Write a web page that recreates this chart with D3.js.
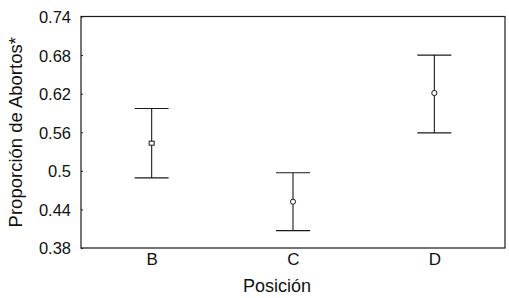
<!DOCTYPE html>
<html><head><meta charset="utf-8">
<script src="https://cdn.jsdelivr.net/npm/d3@7"></script>
<style>body{margin:0;background:#fff}svg{display:block}text{font-family:"Liberation Sans",Arial,sans-serif;fill:#111}</style>
</head><body><svg id="c" width="509" height="298"></svg>
<script>
const categories = ["B", "C", "D"];
const means = [0.543, 0.452, 0.621];
const upper = [0.597, 0.497, 0.680];
const lower = [0.489, 0.407, 0.559];
const markers = ["square", "circle", "circle"];
const yTicks = [0.38, 0.44, 0.5, 0.56, 0.62, 0.68, 0.74];
const yTickLabels = ["0.38", "0.44", "0.5", "0.56", "0.62", "0.68", "0.74"];

const svg = d3.select("#c");
const m = {l: 81, r: 4, t: 16.5, b: 50};
const W = 509, H = 298;
const x = d3.scalePoint().domain(categories).range([m.l, W - m.r]).padding(0.5);
const y = d3.scaleLinear().domain([0.38, 0.74]).range([H - m.b, m.t]);

const ink = "#1a1a1a";
svg.append("rect").attr("x", m.l).attr("y", m.t).attr("width", W - m.r - m.l).attr("height", H - m.b - m.t)
  .attr("fill", "none").attr("stroke", ink).attr("stroke-width", 1.2);

const ya = svg.append("g").attr("transform", `translate(${m.l},0)`)
  .call(d3.axisLeft(y).tickValues(yTicks).tickFormat((d, i) => yTickLabels[i]).tickSize(2).tickPadding(8));
ya.select(".domain").remove();
ya.selectAll("line").attr("stroke", ink).attr("x2", 2);
ya.selectAll("text").style("font-size", "16.5px").attr("dy", "0.36em");

const xa = svg.append("g").attr("transform", `translate(0,${H - m.b})`)
  .call(d3.axisBottom(x).tickSize(0).tickPadding(5));
xa.select(".domain").remove();
xa.selectAll("text").style("font-size", "17px");

svg.append("text").attr("x", 277).attr("y", 292).attr("text-anchor", "middle")
  .style("font-size", "18px").text("Posición");
svg.append("text").attr("transform", `translate(22,${(m.t + H - m.b) / 2}) rotate(-90)`)
  .attr("text-anchor", "middle").style("font-size", "18.5px").text("Proporción de Abortos*");

const data = categories.map((c, i) => ({c, mean: means[i], hi: upper[i], lo: lower[i], mk: markers[i]}));
const cap = 17;
const g = svg.append("g").attr("stroke", ink).attr("stroke-width", 1.1);
g.selectAll(".v").data(data).join("line").attr("x1", d => x(d.c)).attr("x2", d => x(d.c))
  .attr("y1", d => y(d.hi)).attr("y2", d => y(d.lo));
g.selectAll(".t").data(data).join("line").attr("x1", d => x(d.c) - cap).attr("x2", d => x(d.c) + cap)
  .attr("y1", d => y(d.hi)).attr("y2", d => y(d.hi));
g.selectAll(".b").data(data).join("line").attr("x1", d => x(d.c) - cap).attr("x2", d => x(d.c) + cap)
  .attr("y1", d => y(d.lo)).attr("y2", d => y(d.lo));
data.forEach(d => {
  if (d.mk === "square") {
    svg.append("rect").attr("x", x(d.c) - 2.5).attr("y", y(d.mean) - 2).attr("width", 5).attr("height", 4)
      .attr("fill", "#fff").attr("stroke", ink).attr("stroke-width", 1);
  } else {
    svg.append("circle").attr("cx", x(d.c)).attr("cy", y(d.mean)).attr("r", 2.6)
      .attr("fill", "#fff").attr("stroke", ink).attr("stroke-width", 1);
  }
});
</script></body></html>
